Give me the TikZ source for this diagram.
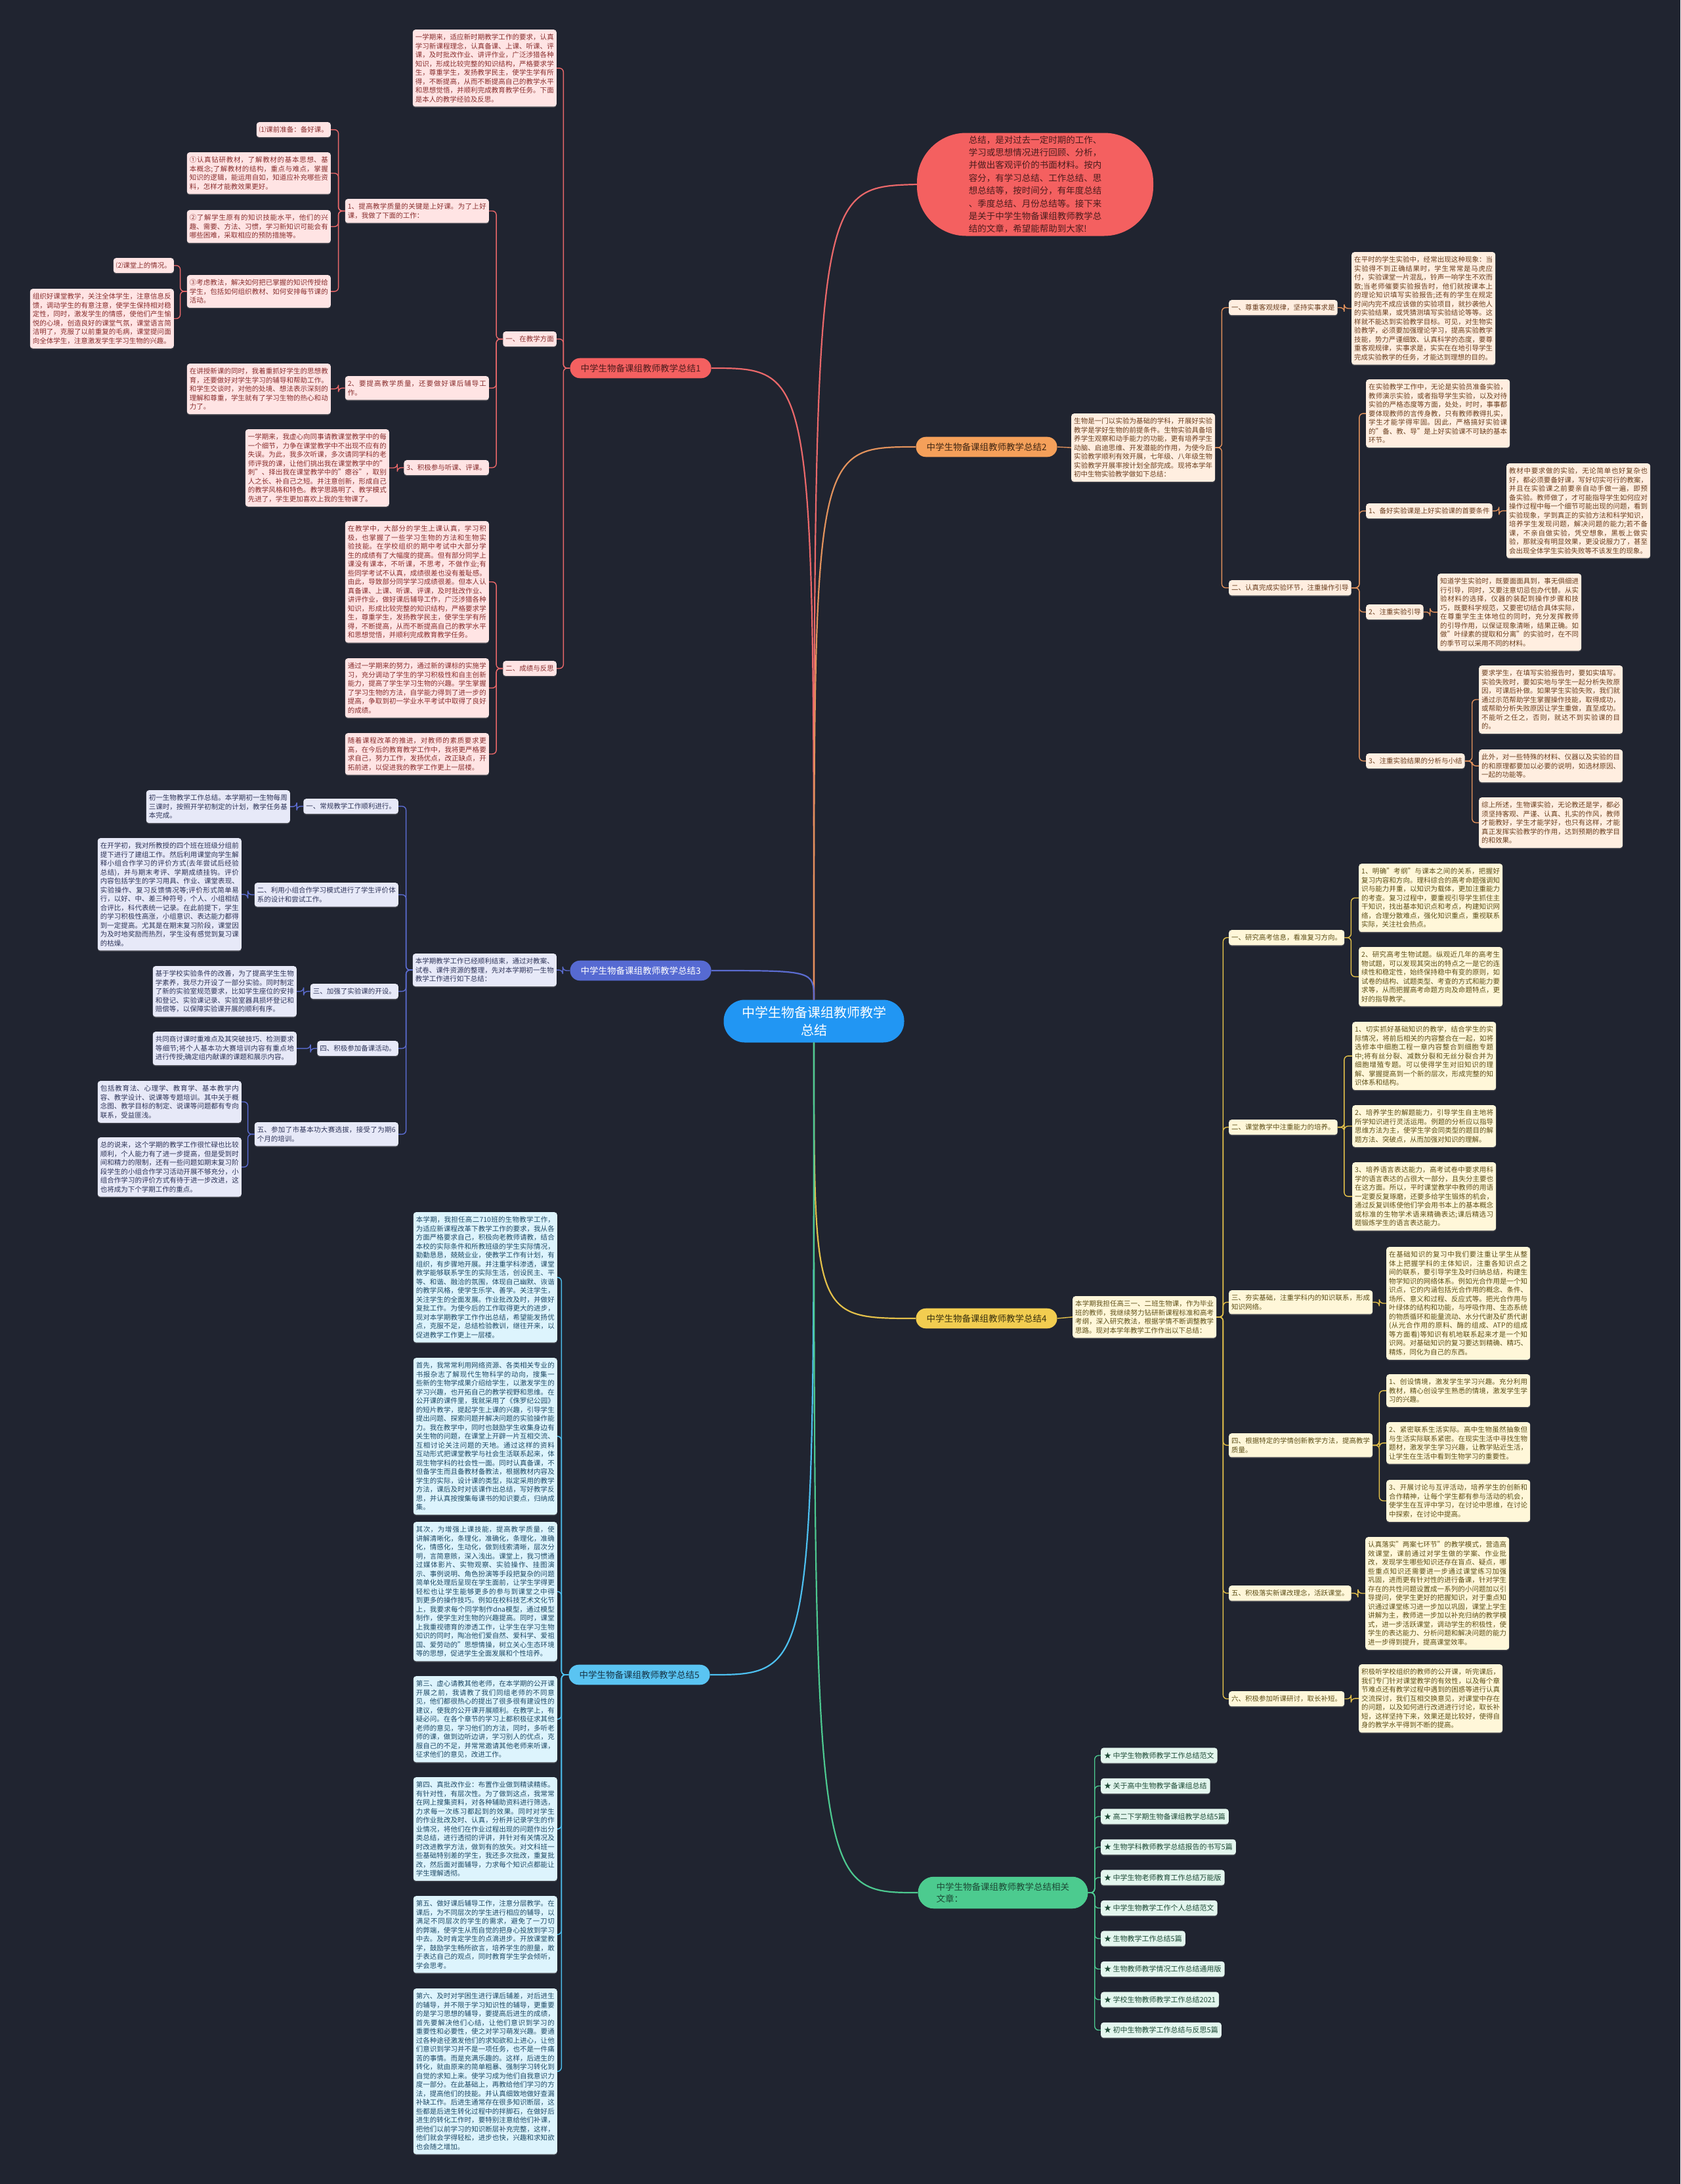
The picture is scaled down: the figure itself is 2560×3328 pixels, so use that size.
\documentclass[tikz,border=0pt]{standalone}
\usepackage{fontspec}
\setmainfont{Noto Sans CJK SC}
\XeTeXlinebreaklocale "zh"
\XeTeXlinebreakskip=0pt plus 1pt
\usepackage{xcolor}
\usetikzlibrary{shadows}
\setlength{\parindent}{0pt}

\definecolor{bgdark}{RGB}{32,36,48}
\definecolor{rootblue}{RGB}{33,150,243}
\definecolor{redmain}{RGB}{244,96,96}
\definecolor{redline}{RGB}{234,104,106}
\definecolor{redfill}{RGB}{255,228,228}
\definecolor{redtext}{RGB}{136,46,46}
\definecolor{redlabel}{RGB}{75,28,28}
\definecolor{ormain}{RGB}{245,160,90}
\definecolor{orline}{RGB}{226,146,92}
\definecolor{orfill}{RGB}{255,238,224}
\definecolor{ortext}{RGB}{107,63,31}
\definecolor{bluemain}{RGB}{86,106,210}
\definecolor{blueline}{RGB}{91,108,208}
\definecolor{bluefill}{RGB}{231,233,248}
\definecolor{bluetext}{RGB}{46,52,88}
\definecolor{yelmain}{RGB}{242,205,80}
\definecolor{yelline}{RGB}{227,192,74}
\definecolor{yelfill}{RGB}{255,247,217}
\definecolor{yeltext}{RGB}{94,80,24}
\definecolor{cyanmain}{RGB}{90,196,242}
\definecolor{cyanline}{RGB}{77,192,240}
\definecolor{cyanfill}{RGB}{221,244,253}
\definecolor{cyantext}{RGB}{31,74,102}
\definecolor{grmain}{RGB}{76,203,143}
\definecolor{grline}{RGB}{77,201,144}
\definecolor{grfill}{RGB}{227,246,238}
\definecolor{grtext}{RGB}{29,74,54}

\newcommand{\leaffont}{\fontsize{10.5}{13.5}\selectfont}
\newcommand{\branchfont}{\fontsize{13.5}{18}\selectfont}

\begin{document}
\begin{tikzpicture}[x=1pt, y=-1pt,
    leafbox/.style={rounded corners=4pt, inner xsep=4pt, inner ysep=6.5pt, font=\leaffont,
      drop shadow={shadow xshift=0pt, shadow yshift=-1.5pt, opacity=0.4}},
    para/.style={text width=211pt, align=justify},
    redleaf/.style={leafbox, fill=redfill, text=redtext},
    orleaf/.style={leafbox, fill=orfill, text=ortext},
    blueleaf/.style={leafbox, fill=bluefill, text=bluetext},
    yelleaf/.style={leafbox, fill=yelfill, text=yeltext},
    cyanleaf/.style={leafbox, fill=cyanfill, text=cyantext},
    grleaf/.style={leafbox, fill=grfill, text=grtext, inner xsep=5pt, font=\fontsize{11}{14}\selectfont},
    branch/.style={rounded corners=15pt, inner xsep=16pt, inner ysep=9pt, font=\branchfont},
    link/.style={line width=1.4pt, rounded corners=6pt},
    trunk/.style={line width=2.2pt},
]
    % 背景
    \useasboundingbox (0,0) rectangle (2560,3328);
    \fill[bgdark] (0,0) rectangle (2560,3328);

    % 中心主题
    \node[fill=rootblue, text=white, rounded corners=32pt, minimum width=275pt, minimum height=65pt,
      align=center, font=\fontsize{20}{27}\selectfont] (root) at (1240,1556)
      {中学生物备课组教师教学\\总结};

    % 导语
    \node[fill=redmain, text=redlabel, rounded corners=75pt, minimum width=360pt, minimum height=157pt,
      align=left, font=\fontsize{13.5}{19.4}\selectfont] (intro) at (1577,281)
      {总结，是对过去一定时期的工作、\\学习或思想情况进行回顾、分析，\\并做出客观评价的书面材料。按内\\容分，有学习总结、工作总结、思\\想总结等，按时间分，有年度总结\\、季度总结、月份总结等。接下来\\是关于中学生物备课组教师教学总\\结的文章，希望能帮助到大家!};

    % 总结1
    \node[branch, fill=redmain, text=redlabel] (s1) at (976,561) {中学生物备课组教师教学总结1};
    \node[redleaf, para, anchor=north east] (s1top) at (848,45) {一学期来，适应新时期教学工作的要求，认真学习新课程理念，认真备课、上课、听课、评课，及时批改作业、讲评作业，广泛涉猎各种知识，形成比较完整的知识结构，严格要求学生，尊重学生，发扬教学民主，使学生学有所得，不断提高，从而不断提高自己的教学水平和思想觉悟，并顺利完成教育教学任务。下面是本人的教学经验及反思。};
    \node[redleaf, anchor=north east] (teach) at (848,505) {一、在教学方面};
    \node[redleaf, para, anchor=north east] (teach1) at (745,303) {1、提高教学质量的关键是上好课。为了上好课，我做了下面的工作：};
    \node[redleaf, anchor=north east] (prep) at (504,186) {⑴课前准备：备好课。};
    \node[redleaf, para, anchor=north east] (prep1) at (504,232) {①认真钻研教材，了解教材的基本思想、基本概念;了解教材的结构，重点与难点，掌握知识的逻辑，能运用自如，知道应补充哪些资料，怎样才能教效果更好。};
    \node[redleaf, para, anchor=north east] (prep2) at (504,320) {②了解学生原有的知识技能水平，他们的兴趣、需要、方法、习惯，学习新知识可能会有哪些困难，采取相应的预防措施等。};
    \node[redleaf, para, anchor=north east] (prep3) at (504,419) {③考虑教法，解决如何把已掌握的知识传授给学生，包括如何组织教材、如何安排每节课的活动。};
    \node[redleaf, anchor=north east] (class) at (265,393) {⑵课堂上的情况。};
    \node[redleaf, para, anchor=north east] (class1) at (265,440) {组织好课堂教学，关注全体学生，注意信息反馈，调动学生的有意注意，使学生保持相对稳定性，同时，激发学生的情感，使他们产生愉悦的心境，创造良好的课堂气氛，课堂语言简洁明了，克服了以前重复的毛病，课堂提问面向全体学生，注意激发学生学习生物的兴趣。};
    \node[redleaf, para, anchor=north east] (teach2) at (745,573) {2、要提高教学质量，还要做好课后辅导工作。};
    \node[redleaf, para, anchor=north east] (tutor) at (504,554) {在讲授新课的同时，我着重抓好学生的思想教育，还要做好对学生学习的辅导和帮助工作。和学生交谈时，对他的处境、想法表示深刻的理解和尊重，学生就有了学习生物的热心和动力了。};
    \node[redleaf, anchor=north east] (teach3) at (745,701) {3、积极参与听课、评课。};
    \node[redleaf, para, anchor=north east] (listen) at (593,654) {一学期来，我虚心向同事请教课堂教学中的每一个细节，力争在课堂教学中不出现不应有的失误。为此，我多次听课，多次请同学科的老师评我的课，让他们挑出我在课堂教学中的"刺"、择出我在课堂教学中的"瘪谷"，取别人之长、补自己之短。并注意创新，形成自己的教学风格和特色。教学思路明了、教学模式先进了，学生更加喜欢上我的生物课了。};
    \node[redleaf, anchor=north east] (result) at (848,1007) {二、成绩与反思};
    \node[redleaf, para, anchor=north east] (result1) at (745,794) {在教学中，大部分的学生上课认真，学习积极，也掌握了一些学习生物的方法和生物实验技能。在学校组织的期中考试中大部分学生的成绩有了大幅度的提高。但有部分同学上课没有课本，不听课，不思考，不做作业;有些同学考试不认真，成绩很差也没有羞耻感。由此，导致部分同学学习成绩很差。但本人认真备课、上课、听课、评课，及时批改作业、讲评作业，做好课后辅导工作，广泛涉猎各种知识，形成比较完整的知识结构，严格要求学生，尊重学生，发扬教学民主，使学生学有所得，不断提高，从而不断提高自己的教学水平和思想觉悟，并顺利完成教育教学任务。};
    \node[redleaf, para, anchor=north east] (result2) at (745,1003) {通过一学期来的努力，通过新的课标的实施学习，充分调动了学生的学习积极性和自主创新能力，提高了学生学习生物的兴趣。学生掌握了学习生物的方法，自学能力得到了进一步的提高，争取到初一学业水平考试中取得了良好的成绩。};
    \node[redleaf, para, anchor=north east] (result3) at (745,1117) {随着课程改革的推进，对教师的素质要求更高，在今后的教育教学工作中，我将更严格要求自己，努力工作，发扬优点，改正缺点，开拓前进，以促进我的教学工作更上一层楼。};

    % 总结2
    \node[branch, fill=ormain, text=ortext!60!black] (s2) at (1503,681) {中学生物备课组教师教学总结2};
    \node[orleaf, para, anchor=north west] (s2top) at (1632,630) {生物是一门以实验为基础的学科，开展好实验教学是学好生物的前提条件。生物实验具备培养学生观察和动手能力的功能，更有培养学生动脑、启迪思维、开发潜能的作用，为使今后实验教学顺利有效开展，七年级、八年级生物实验教学开展率按计划全部完成。现将本学年初中生物实验教学做如下总结：};
    \node[orleaf, anchor=north west] (fact) at (1872,457) {一、尊重客观规律，坚持实事求是};
    \node[orleaf, para, anchor=north west] (fact1) at (2059,384) {在平时的学生实验中，经常出现这种现象：当实验得不到正确结果时，学生常常是马虎应付，实验课堂一片混乱，铃声一响学生不欢而散;当老师催要实验报告时，他们就按课本上的理论知识填写实验报告;还有的学生在规定时间内完不成应该做的实验项目，就抄袭他人的实验结果，或凭猜测填写实验结论等等。这样就不能达到实验教学目标。可见，对生物实验教学，必须要加强理论学习，提高实验教学技能，势力严谨细致、认真科学的态度，要尊重客观规律，实事求是，实实在在地引导学生完成实验教学的任务，才能达到理想的目的。};
    \node[orleaf, anchor=north west] (lab) at (1872,884) {二、认真完成实验环节，注重操作引导};
    \node[orleaf, para, anchor=north west] (lab0) at (2081,578) {在实验教学工作中，无论是实验员准备实验，教师演示实验，或者指导学生实验，以及对待实验的严格态度等方面，处处，时时，事事都要体现教师的言传身教，只有教师教得扎实，学生才能学得牢固。因此，严格搞好实验课的"备、教、导"是上好实验课不可缺的基本环节。};
    \node[orleaf, anchor=north west] (lab1) at (2081,767) {1、备好实验课是上好实验课的首要条件};
    \node[orleaf, para, anchor=north west] (lab1a) at (2295,706) {教材中要求做的实验，无论简单也好复杂也好，都必须要备好课，写好切实可行的教案，并且在实验课之前要亲自动手做一遍，即预备实验。教师做了，才可能指导学生如何应对操作过程中每一个细节可能出现的问题，看到实验现象，学到真正的实验方法和科学知识，培养学生发现问题，解决问题的能力;若不备课，不亲自做实验，凭空想象，黑板上做实验，那就没有明显效果，更没说服力了，甚至会出现全体学生实验失败等不该发生的现象。};
    \node[orleaf, anchor=north west] (lab2) at (2081,921) {2、注重实验引导};
    \node[orleaf, para, anchor=north west] (lab2a) at (2190,874) {知道学生实验时，既要面面具到，事无俱细进行引导，同时，又要注意切忌包办代替。从实验材料的选择，仪器的装配到操作步骤和技巧，既要科学规范，又要密切结合具体实际，在尊重学生主体地位的同时，充分发挥教师的引导作用，以保证现象清晰，结果正确。如做"叶绿素的提取和分离"的实验时，在不同的季节可以采用不同的材料。};
    \node[orleaf, anchor=north west] (lab3) at (2081,1148) {3、注重实验结果的分析与小结};
    \node[orleaf, para, anchor=north west] (lab3a) at (2253,1014) {要求学生，在填写实验报告时，要如实填写。实验失败时，要如实地与学生一起分析失败原因，可课后补做。如果学生实验失败，我们就通过示范帮助学生掌握操作技能，取得成功，或帮助分析失败原因让学生重做，直至成功。不能听之任之，否则，就达不到实验课的目的。};
    \node[orleaf, para, anchor=north west] (lab3b) at (2253,1142) {此外，对一些特殊的材料、仪器以及实验的目的和原理都要加以必要的说明，如选材原因、一起的功能等。};
    \node[orleaf, para, anchor=north west] (lab3c) at (2253,1215) {综上所述，生物课实验，无论教还是学，都必须坚持客观、严谨、认真、扎实的作风，教师才能教好，学生才能学好，也只有这样，才能真正发挥实验教学的作用，达到预期的教学目的和效果。};

    % 总结3
    \node[branch, fill=bluemain, text=white] (s3) at (976,1479) {中学生物备课组教师教学总结3};
    \node[blueleaf, para, anchor=north east] (s3top) at (848,1453) {本学期教学工作已经顺利结束，通过对教案、试卷、课件资源的整理，先对本学期初一生物教学工作进行如下总结：};
    \node[blueleaf, anchor=north east] (work1) at (607,1217) {一、常规教学工作顺利进行。};
    \node[blueleaf, para, anchor=north east] (work1a) at (442,1204) {初一生物教学工作总结。本学期初一生物每周三课时，按照开学初制定的计划，教学任务基本完成。};
    \node[blueleaf, para, anchor=north east] (work2) at (607,1345) {二、利用小组合作学习模式进行了学生评价体系的设计和尝试工作。};
    \node[blueleaf, para, anchor=north east] (work2a) at (368,1277) {在开学初，我对所教授的四个班在班级分组前提下进行了建组工作。然后利用课堂向学生解释小组合作学习的评价方式(去年尝试后经验总结)，并与期末考评、学期成绩挂钩。评价内容包括学生的学习用具、作业、课堂表现、实验操作、复习反馈情况等;评价形式简单易行，以好、中、差三种符号，个人、小组相结合评比，科代表统一记录。在此前提下，学生的学习积极性高涨，小组意识、表达能力都得到一定提高。尤其是在期末复习阶段，课堂因为及时地奖励而热烈，学生没有感觉到复习课的枯燥。};
    \node[blueleaf, anchor=north east] (work3) at (607,1499) {三、加强了实验课的开设。};
    \node[blueleaf, para, anchor=north east] (work3a) at (452,1472) {基于学校实验条件的改善，为了提高学生生物学素养，我尽力开设了一部分实验。同时制定了新的实验室规范要求，比如学生座位的安排和登记、实验课记录、实验室器具损坏登记和赔偿等，以保障实验课开展的顺利有序。};
    \node[blueleaf, anchor=north east] (work4) at (607,1586) {四、积极参加备课活动。};
    \node[blueleaf, para, anchor=north east] (work4a) at (452,1572) {共同商讨课时重难点及其突破技巧、检测要求等细节;将个人基本功大赛培训内容有重点地进行传授;确定组内献课的课题和展示内容。};
    \node[blueleaf, para, anchor=north east] (work5) at (607,1710) {五、参加了市基本功大赛选拔，接受了为期6个月的培训。};
    \node[blueleaf, para, anchor=north east] (work5a) at (368,1647) {包括教育法、心理学、教育学、基本教学内容、教学设计、说课等专题培训。其中关于概念图、教学目标的制定、说课等问题都有专向联系，受益匪浅。};
    \node[blueleaf, para, anchor=north east] (work5b) at (368,1733) {总的说来，这个学期的教学工作很忙碌也比较顺利，个人能力有了进一步提高，但是受到时间和精力的限制，还有一些问题如期末复习阶段学生的小组合作学习活动开展不够充分，小组合作学习的评价方式有待于进一步改进，这也将成为下个学期工作的重点。};

    % 总结4
    \node[branch, fill=yelmain, text=yeltext!60!black] (s4) at (1503,2009) {中学生物备课组教师教学总结4};
    \node[yelleaf, para, anchor=north west] (s4top) at (1634,1975) {本学期我担任高三一、二班生物课，作为毕业班的教师，我继续努力钻研新课程标准和高考考纲，深入研究教法，根据学情不断调整教学思路。现对本学年教学工作作出以下总结：};
    \node[yelleaf, anchor=north west] (exam) at (1872,1417) {一、研究高考信息，看准复习方向。};
    \node[yelleaf, para, anchor=north west] (exam1) at (2070,1316) {1、明确"考纲"与课本之间的关系，把握好复习内容和方向。理科综合的高考命题强调知识与能力并重，以知识为载体，更加注重能力的考查。复习过程中，要重视引导学生抓住主干知识，找出基本知识点和考点，构建知识网络，合理分散难点，强化知识重点，重视联系实际，关注社会热点。};
    \node[yelleaf, para, anchor=north west] (exam2) at (2070,1443) {2、研究高考生物试题。纵观近几年的高考生物试题，可以发现其突出的特点之一是它的连续性和稳定性，始终保持稳中有变的原则，如试卷的结构、试题类型、考查的方式和能力要求等，从而把握高考命题方向及命题特点，更好的指导教学。};
    \node[yelleaf, anchor=north west] (skill) at (1872,1706) {二、课堂教学中注重能力的培养。};
    \node[yelleaf, para, anchor=north west] (skill1) at (2060,1557) {1、切实抓好基础知识的教学，结合学生的实际情况，将前后相关的内容整合在一起，如将选修本中细胞工程一章内容整合到细胞专题中;将有丝分裂、减数分裂和无丝分裂合并为细胞增殖专题。可以使得学生对旧知识的理解、掌握提高到一个新的层次，形成完整的知识体系和结构。};
    \node[yelleaf, para, anchor=north west] (skill2) at (2060,1684) {2、培养学生的解题能力，引导学生自主地将所学知识进行灵活运用。例题的分析应以指导思维方法为主，使学生学会同类型的题目的解题方法、突破点，从而加强对知识的理解。};
    \node[yelleaf, para, anchor=north west] (skill3) at (2060,1771) {3、培养语言表达能力，高考试卷中要求用科学的语言表达的占很大一部分，且失分主要也在这方面。所以，平时课堂教学中教师的用语一定要反复琢磨，还要多给学生锻炼的机会，通过反复训练使他们学会用书本上的基本概念或标准的生物学术语来精确表达;课后精选习题锻炼学生的语言表达能力。};
    \node[yelleaf, para, anchor=north west] (base) at (1872,1966) {三、夯实基础，注重学科内的知识联系，形成知识网络。};
    \node[yelleaf, para, anchor=north west] (base1) at (2112,1900) {在基础知识的复习中我们要注重让学生从整体上把握学科的主体知识，注重各知识点之间的联系，要引导学生及时归纳总结，构建生物学知识的网络体系。例如光合作用是一个知识点，它的内涵包括光合作用的概念、条件、场所、意义和过程、反应式等。把光合作用与叶绿体的结构和功能，与呼吸作用、生态系统的物质循环和能量流动、水分代谢及矿质代谢(从光合作用的原料、酶的组成、ATP的组成等方面看)等知识有机地联系起来才是一个知识网。对基础知识的复习要达到精确、精巧、精炼，同化为自己的东西。};
    \node[yelleaf, para, anchor=north west] (method) at (1872,2184) {四、根据特定的学情创新教学方法，提高教学质量。};
    \node[yelleaf, para, anchor=north west] (method1) at (2112,2094) {1、创设情境，激发学生学习兴趣。充分利用教材，精心创设学生熟悉的情境，激发学生学习的兴趣。};
    \node[yelleaf, para, anchor=north west] (method2) at (2112,2167) {2、紧密联系生活实际。高中生物虽然抽象但与生活实际联系紧密。在现实生活中寻找生物题材，激发学生学习兴趣，让教学贴近生活，让学生在生活中看到生物学习的重要性。};
    \node[yelleaf, para, anchor=north west] (method3) at (2112,2255) {3、开展讨论与互评活动，培养学生的创新和合作精神，让每个学生都有参与活动的机会，使学生在互评中学习，在讨论中思维，在讨论中探索，在讨论中提高。};
    \node[yelleaf, anchor=north west] (reform) at (1872,2416) {五、积极落实新课改理念，活跃课堂。};
    \node[yelleaf, para, anchor=north west] (reform1) at (2080,2342) {认真落实"两案七环节"的教学模式，营造高效课堂，课前通过对学生做的学案、作业批改，发现学生哪些知识还存在盲点、疑点，哪些重点知识还需要进一步通过课堂练习加强巩固，进而更有针对性的进行备课，针对学生存在的共性问题设置成一系列的小问题加以引导提问，使学生更好的把握知识，对于重点知识通过课堂练习进一步加以巩固，课堂上学生讲解为主，教师进一步加以补充归纳的教学模式，进一步活跃课堂，调动学生的积极性，使学生的表达能力、分析问题和解决问题的能力进一步得到提升，提高课堂效率。};
    \node[yelleaf, anchor=north west] (visit) at (1872,2577) {六、积极参加听课研讨，取长补短。};
    \node[yelleaf, para, anchor=north west] (visit1) at (2070,2536) {积极听学校组织的教师的公开课，听完课后，我们专门针对课堂教学的有效性，以及每个章节难点还有教学过程中遇到的困惑等进行认真交流探讨，我们互相交换意见，对课堂中存在的问题，以及如何进行改进进行讨论，取长补短，这样坚持下来，效果还是比较好，使得自身的教学水平得到不断的提高。};

    % 总结5
    \node[branch, fill=cyanmain, text=cyantext!70!black] (s5) at (974,2552) {中学生物备课组教师教学总结5};
    \node[cyanleaf, para, anchor=north east] (term1) at (849,1847) {本学期，我担任高二710班的生物教学工作，为适应新课程改革下教学工作的要求，我从各方面严格要求自己，积极向老教师请教，结合本校的实际条件和所教班级的学生实际情况，勤勤恳恳，兢兢业业，使教学工作有计划，有组织，有步骤地开展。并注重学科渗透，课堂教学能够联系学生的实际生活，创设民主、平等、和谐、融洽的氛围，体现自己幽默、诙谐的教学风格，使学生乐学、善学。关注学生，关注学生的全面发展。作业批改及时，并做好复批工作。为使今后的工作取得更大的进步，现对本学期教学工作作出总结，希望能发扬优点，克服不足，总结检验教训，继往开来，以促进教学工作更上一层楼。};
    \node[cyanleaf, para, anchor=north east] (term2) at (849,2069) {首先，我常常利用网络资源、各类相关专业的书报杂志了解现代生物科学的动向，搜集一些新的生物学成果介绍给学生，以激发学生的学习兴趣，也开拓自己的教学视野和思维。在公开课的课件里，我就采用了《侏罗纪公园》的短片教学，提起学生上课的兴趣，引导学生提出问题、探索问题并解决问题的实验操作能力。我在教学中，同时也鼓励学生收集身边有关生物的问题，在课堂上开辟一片互相交流、互相讨论关注问题的天地。通过这样的资料互动形式把课堂教学与社会生活联系起来，体现生物学科的社会性一面。同时认真备课，不但备学生而且备教材备教法，根据教材内容及学生的实际，设计课的类型，拟定采用的教学方法，课后及时对该课作出总结，写好教学反思，并认真按搜集每课书的知识要点，归纳成集。};
    \node[cyanleaf, para, anchor=north east] (term3) at (849,2319) {其次，为增强上课技能，提高教学质量，使讲解清晰化，条理化，准确化，条理化，准确化，情感化，生动化，做到线索清晰，层次分明，言简意赅，深入浅出。课堂上，我习惯通过媒体影片、实物观察、实验操作、挂图演示、事例说明、角色扮演等手段把复杂的问题简单化处理后呈现在学生面前，让学生学得更轻松也让学生能够更多的参与到课堂之中得到更多的操作技巧。例如在校科技艺术文化节上，我要求每个同学制作dna模型，通过模型制作，使学生对生物的兴趣提高。同时，课堂上我重视德育的渗透工作，让学生在学习生物知识的同时，陶冶他们爱自然、爱科学、爱祖国、爱劳动的"思想情操，树立关心生态环境等的思想，促进学生全面发展和个性培养。};
    \node[cyanleaf, para, anchor=north east] (term4) at (849,2554) {第三、虚心请教其他老师，在本学期的公开课开展之前，我请教了我们同组老师的不同意见，他们都很热心的提出了很多很有建设性的建议，使我的公开课开展顺利。在教学上，有疑必问。在各个章节的学习上都积极征求其他老师的意见，学习他们的方法，同时，多听老师的课，做到边听边讲，学习别人的优点，克服自己的不足，并常常邀请其他老师来听课，征求他们的意见，改进工作。};
    \node[cyanleaf, para, anchor=north east] (term5) at (849,2708) {第四、真批改作业：布置作业做到精读精练。有针对性，有层次性。为了做到这点，我常常在网上搜集资料，对各种辅助资料进行筛选，力求每一次练习都起到的效果。同时对学生的作业批改及时、认真，分析并记录学生的作业情况，将他们在作业过程出现的问题作出分类总结，进行透彻的评讲，并针对有关情况及时改进教学方法，做到有的放矢。对文科班一些基础特别差的学生，我还多次批改，重复批改，然后面对面辅导，力求每个知识点都能让学生理解透彻。};
    \node[cyanleaf, para, anchor=north east] (term6) at (849,2889) {第五、做好课后辅导工作，注意分层教学。在课后，为不同层次的学生进行相应的辅导，以满足不同层次的学生的需求，避免了一刀切的弊端，使学生从而自觉的把身心投放到学习中去。及时肯定学生的点滴进步。开放课堂教学，鼓励学生畅所欲言，培养学生的胆量，敢于表达自己的观点，同时教育学生学会倾听，学会思考。};
    \node[cyanleaf, para, anchor=north east] (term7) at (849,3030) {第六、及时对学困生进行课后辅差，对后进生的辅导，并不限于学习知识性的辅导，更重要的是学习思想的辅导，要提高后进生的成绩，首先要解决他们心结，让他们意识到学习的重要性和必要性，使之对学习萌发兴趣。要通过各种途径激发他们的求知欲和上进心，让他们意识到学习并不是一项任务，也不是一件痛苦的事情。而是充满乐趣的。这样，后进生的转化，就由原来的简单粗暴、强制学习转化到自觉的求知上来。使学习成为他们自我意识力度一部分。在此基础上，再教给他们学习的方法，提高他们的技能。并认真细致地做好查漏补缺工作。后进生通常存在很多知识断层，这些都是后进生转化过程中的拌脚石，在做好后进生的转化工作时，要特别注意给他们补课，把他们以前学习的知识断层补充完整，这样，他们就会学得轻松，进步也快，兴趣和求知欲也会随之增加。};

    % 相关文章
    \node[fill=grmain, text=grtext, rounded corners=24pt, inner xsep=28pt, inner ysep=9pt,
      text width=203pt, align=left, font=\branchfont] (s6) at (1528,2884) {中学生物备课组教师教学总结相关文章：};
    \foreach \t [count=\i] in {中学生物教师教学工作总结范文, 关于高中生物教学备课组总结, 高二下学期生物备课组教学总结5篇,
        生物学科教师教学总结报告的书写5篇, 中学生物老师教育工作总结万能版, 中学生物教学工作个人总结范文,
        生物教学工作总结5篇, 生物教师教学情况工作总结通用版, 学校生物教师教学工作总结2021, 初中生物教学工作总结与反思5篇} {
      \node[grleaf, anchor=west] (art\i) at (1677, {2675+46.5*(\i-1)}) {★ \t};
      \draw[link, grline] (s6.east) -- ++(10,0) |- (art\i.west);
    }

    % 主干连线
    \draw[trunk, redline] (root.north) .. controls (1240,285) .. (intro.west);
    \draw[trunk, redline] (root.north) .. controls (1240,561) .. (s1.east);
    \draw[trunk, orline] (root.north) .. controls (1240,681) .. (s2.west);
    \draw[trunk, blueline] (root.north) .. controls (1240,1479) .. (s3.east);
    \draw[trunk, yelline] (root.south) .. controls (1240,2009) .. (s4.west);
    \draw[trunk, cyanline] (root.south) .. controls (1240,2552) .. (s5.east);
    \draw[trunk, grline] (root.south) .. controls (1240,2884) .. (s6.west);

    % 总结1 连线
    \foreach \c in {s1top,teach,result} \draw[link, redline] (s1.west) -- ++(-10,0) |- (\c.east);
    \foreach \c in {teach1,teach2,teach3} \draw[link, redline] (teach.west) -- ++(-10,0) |- (\c.east);
    \foreach \c in {prep,prep1,prep2,prep3} \draw[link, redline] (teach1.west) -- ++(-10,0) |- (\c.east);
    \foreach \c in {class,class1} \draw[link, redline] (prep3.west) -- ++(-10,0) |- (\c.east);
    \draw[link, redline] (teach2.west) -- ++(-10,0) |- (tutor.east);
    \draw[link, redline] (teach3.west) -- ++(-10,0) |- (listen.east);
    \foreach \c in {result1,result2,result3} \draw[link, redline] (result.west) -- ++(-10,0) |- (\c.east);

    % 总结2 连线
    \draw[link, orline] (s2.east) -- (s2top.west);
    \foreach \c in {fact,lab} \draw[link, orline] (s2top.east) -- ++(10,0) |- (\c.west);
    \draw[link, orline] (fact.east) -- ++(10,0) |- (fact1.west);
    \foreach \c in {lab0,lab1,lab2,lab3} \draw[link, orline] (lab.east) -- ++(12,0) |- (\c.west);
    \draw[link, orline] (lab1.east) -- ++(10,0) |- (lab1a.west);
    \draw[link, orline] (lab2.east) -- ++(10,0) |- (lab2a.west);
    \foreach \c in {lab3a,lab3b,lab3c} \draw[link, orline] (lab3.east) -- ++(11,0) |- (\c.west);

    % 总结3 连线
    \draw[link, blueline] (s3.west) -- ++(-11,0) |- (s3top.east);
    \foreach \c in {work1,work2,work3,work4,work5} \draw[link, blueline] (s3top.west) -- ++(-10,0) |- (\c.east);
    \draw[link, blueline] (work1.west) -- ++(-10,0) |- (work1a.east);
    \draw[link, blueline] (work2.west) -- ++(-10,0) |- (work2a.east);
    \draw[link, blueline] (work3.west) -- ++(-10,0) |- (work3a.east);
    \draw[link, blueline] (work4.west) -- ++(-10,0) |- (work4a.east);
    \foreach \c in {work5a,work5b} \draw[link, blueline] (work5.west) -- ++(-10,0) |- (\c.east);

    % 总结4 连线
    \draw[link, yelline] (s4.east) -- (s4top.west);
    \foreach \c in {exam,skill,base,method,reform,visit} \draw[link, yelline] (s4top.east) -- ++(10,0) |- (\c.west);
    \foreach \c in {exam1,exam2} \draw[link, yelline] (exam.east) -- ++(10,0) |- (\c.west);
    \foreach \c in {skill1,skill2,skill3} \draw[link, yelline] (skill.east) -- ++(10,0) |- (\c.west);
    \draw[link, yelline] (base.east) -- ++(10,0) |- (base1.west);
    \foreach \c in {method1,method2,method3} \draw[link, yelline] (method.east) -- ++(10,0) |- (\c.west);
    \draw[link, yelline] (reform.east) -- ++(10,0) |- (reform1.west);
    \draw[link, yelline] (visit.east) -- ++(10,0) |- (visit1.west);

    % 总结5 连线
    \foreach \c in {term1,term2,term3,term4,term5,term6,term7} \draw[link, cyanline] (s5.west) -- ++(-11,0) |- (\c.east);
\end{tikzpicture}
\end{document}
